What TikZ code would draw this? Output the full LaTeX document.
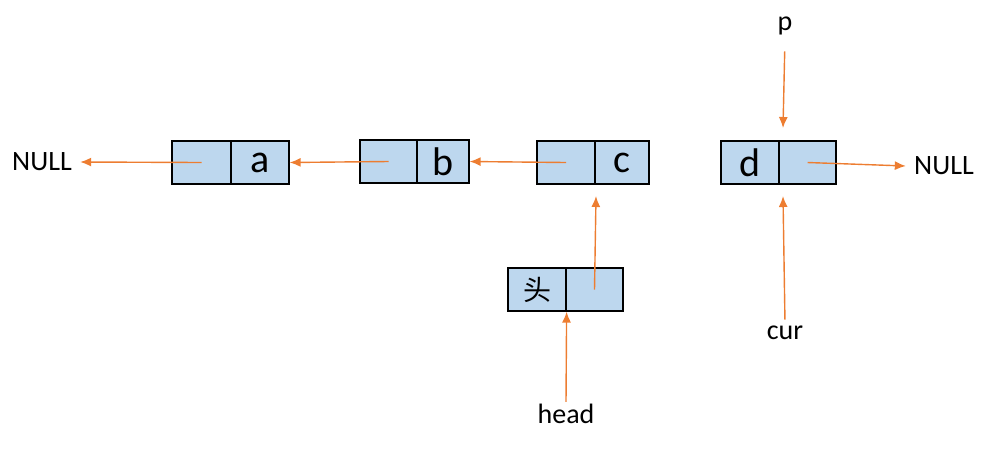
\documentclass[tikz,border=0pt]{standalone}
\usepackage{fontspec}
\setmainfont{Carlito}
\newfontfamily\cjk{Noto Sans CJK SC}
\usepackage{tikz}
\usetikzlibrary{arrows.meta}
\definecolor{cellblue}{HTML}{BDD7EE}
\definecolor{ptrorange}{HTML}{ED7D31}
\tikzset{
  cell/.style={draw=black, fill=cellblue, line width=0.6pt, inner sep=0pt, minimum height=21.5pt},
  ptr/.style={ptrorange, line width=0.7pt, ->, >={Latex[length=5.5pt,width=4.5pt]}},
  lbl/.style={font=\fontsize{14}{16}\selectfont, inner sep=1pt},
  val/.style={font=\fontsize{20}{22}\selectfont}
}

\begin{document}
\begin{tikzpicture}[x=0.5pt, y=-0.5pt]
  \useasboundingbox (0,0) rectangle (988,451);
  % list cells
  \node[cell, minimum width=29.5pt] (al) at (201.5,162.5) {};
  \node[cell, minimum width=29pt, val] (ar) at (260,162.5) {a};
  \node[cell, minimum width=28.5pt] (bl) at (388.5,161.5) {};
  \node[cell, minimum width=26pt, val] (br) at (443,161.5) {b};
  \node[cell, minimum width=29pt] (cl) at (566,162.5) {};
  \node[cell, minimum width=27pt, val] (cr) at (622,162.5) {c};
  \node[cell, minimum width=29pt, val] (dl) at (750,162.5) {d};
  \node[cell, minimum width=28.5pt] (dr) at (807.5,162.5) {};
  \node[cell, minimum width=29pt, font=\cjk\fontsize{14}{16}\selectfont] (hl) at (537,289.5) {头};
  \node[cell, minimum width=28.5pt] (hr) at (594.5,289.5) {};
  % labels
  \node[lbl, inner xsep=4pt] (nullL) at (42,162) {NULL};
  \node[lbl, inner xsep=4pt] (nullR) at (944,166) {NULL};
  \node[lbl] (p) at (785,26) {p};
  \node[lbl] (cur) at (785,333) {cur};
  \node[lbl] (head) at (566,414) {head};
  \coordinate (ptip) at (783,128);
  \coordinate (ctip) at (596,196);
  \coordinate (curtip) at (783,196);
  % pointers
  \draw[ptr] (al.center) -- (nullL.east);
  \draw[ptr] (bl.center) -- (ar.east);
  \draw[ptr] (cl.center) -- (br.east);
  \draw[ptr] (dr.center) -- (nullR.west);
  \draw[ptr, shorten <=7pt] (p.south) -- (ptip);
  \draw[ptr, shorten <=2pt] (cur.north) -- (curtip);
  \draw[ptr] (hr.center) -- (ctip);
  \draw[ptr] (head.north) -- (hl.south east);
\end{tikzpicture}
\end{document}
